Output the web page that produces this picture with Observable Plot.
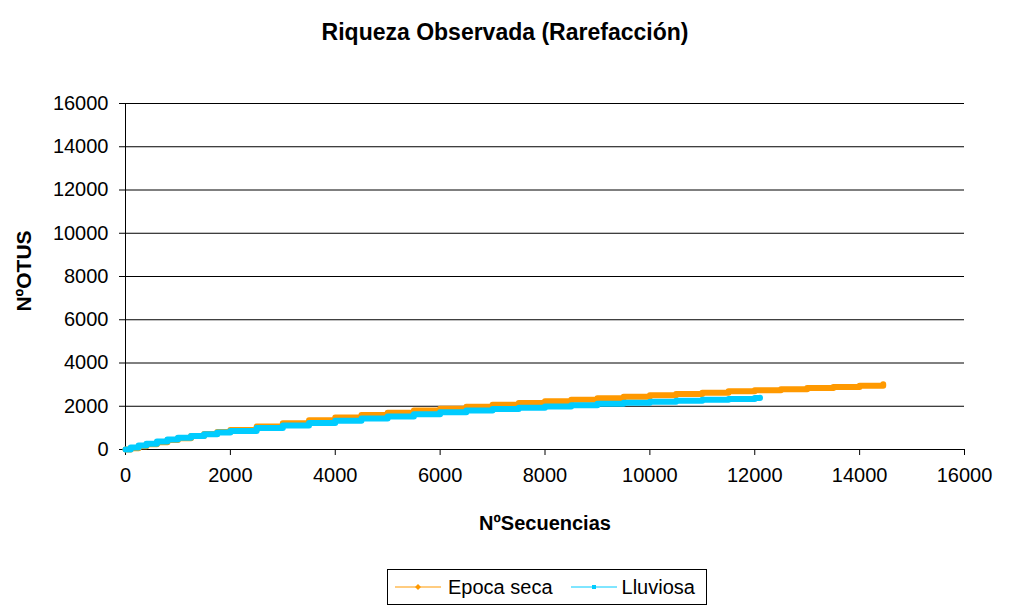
<!DOCTYPE html>
<html><head><meta charset="utf-8">
<script src="https://cdn.jsdelivr.net/npm/d3@7"></script>
<script src="https://cdn.jsdelivr.net/npm/@observablehq/plot@0.6"></script>
<style>
body{margin:0;background:#fff;font-family:"Liberation Sans",Arial,sans-serif;}
#wrap{position:relative;width:1009px;height:605px;overflow:hidden;background:#fff}
#legend{position:absolute;left:387px;top:569px;width:320px;height:36px;border:1px solid #000;box-sizing:border-box;display:flex;align-items:center;font-size:20px;color:#000;background:#fff;padding-left:7px}
#legend .item{display:flex;align-items:center}
#legend svg{display:block}
.lbl{position:absolute;font-weight:bold;color:#000;white-space:nowrap;line-height:1}
</style></head>
<body><div id="wrap"></div>
<script>
const title = "Riqueza Observada (Rarefacción)";
const xLabel = "NºSecuencias";
const yLabel = "NºOTUS";
const seriesNames = ["Epoca seca", "Lluviosa"];
const seriesColors = ["#FF9900", "#00CCFF"];
const xTicks = [0, 2000, 4000, 6000, 8000, 10000, 12000, 14000, 16000];
const yTicks = [0, 2000, 4000, 6000, 8000, 10000, 12000, 14000, 16000];

const secaSeq  = [0, 100, 250, 400, 600, 800, 1000, 1250, 1500, 1750, 2000, 2500, 3000, 3500, 4000, 4500, 5000, 5500, 6000, 6500, 7000, 7500, 8000, 8500, 9000, 9500, 10000, 10500, 11000, 11500, 12000, 12500, 13000, 13500, 14000, 14450];
const secaOtus = [0, 60, 150, 240, 340, 440, 520, 620, 720, 810, 900, 1060, 1210, 1350, 1480, 1590, 1700, 1800, 1890, 1980, 2070, 2150, 2230, 2300, 2370, 2440, 2510, 2570, 2630, 2690, 2740, 2790, 2840, 2890, 2950, 3020];

const lluvSeq  = [0, 100, 250, 400, 600, 800, 1000, 1250, 1500, 1750, 2000, 2500, 3000, 3500, 4000, 4500, 5000, 5500, 6000, 6500, 7000, 7500, 8000, 8500, 9000, 9500, 10000, 10500, 11000, 11500, 12000, 12100];
const lluvOtus = [0, 90, 180, 270, 370, 460, 540, 630, 710, 790, 860, 1000, 1110, 1220, 1330, 1430, 1530, 1630, 1720, 1800, 1870, 1930, 1990, 2050, 2110, 2160, 2210, 2260, 2300, 2340, 2380, 2390];

const rows = [
  ...secaSeq.map((x, i) => ({serie: seriesNames[0], x, y: secaOtus[i]})),
  ...lluvSeq.map((x, i) => ({serie: seriesNames[1], x, y: lluvOtus[i]}))
];

const font = "Liberation Sans, Arial, sans-serif";
const plot = Plot.plot({
  width: 1009, height: 605,
  marginLeft: 125, marginRight: 45, marginTop: 103, marginBottom: 156,
  style: {fontFamily: font, fontSize: "20px", color: "#000", background: "#fff"},
  x: {domain: [0, 16000]},
  y: {domain: [0, 16000]},
  color: {domain: seriesNames, range: seriesColors},
  marks: [
    Plot.gridY(yTicks, {stroke: "#000", strokeOpacity: 1, strokeWidth: 1}),
    Plot.ruleX([0], {stroke: "#000", strokeWidth: 1}),
    Plot.ruleY([0], {stroke: "#000", strokeWidth: 1}),
    Plot.axisY(yTicks, {tickSize: 6, tickPadding: 11, tickFormat: d => String(d), label: null, fontSize: 20, stroke: "#000"}),
    Plot.axisX(xTicks, {tickSize: 6, tickPadding: 12, tickFormat: d => String(d), label: null, fontSize: 20, stroke: "#000"}),
    Plot.line(rows, {x: "x", y: "y", z: "serie", stroke: "serie", strokeWidth: 6, curve: "step-after", strokeLinecap: "round", strokeLinejoin: "round"})
  ]
});
const wrap = document.getElementById("wrap");
wrap.appendChild(plot);

function addLabel(text, size, cx, cy, rotate) {
  const d = document.createElement("div");
  d.className = "lbl";
  d.textContent = text;
  d.style.fontSize = size + "px";
  d.style.left = cx + "px";
  d.style.top = cy + "px";
  d.style.transform = `translate(-50%,-50%)${rotate ? " rotate(-90deg)" : ""}`;
  wrap.appendChild(d);
}
addLabel(title, 23, 505, 32, false);
addLabel(xLabel, 20, 545, 523, false);
addLabel(yLabel, 21, 23, 271, true);

const legend = document.createElement("div");
legend.id = "legend";
const markers = ["diamond", "square"];
seriesNames.forEach((name, i) => {
  const item = document.createElement("div");
  item.className = "item";
  item.style.marginRight = i === 0 ? "18px" : "0";
  const c = seriesColors[i];
  const mk = markers[i] === "diamond"
    ? `<path d="M23,2 L26,5 L23,8 L20,5 Z" fill="${c}"/>`
    : `<rect x="21" y="3" width="4" height="4" fill="${c}"/>`;
  item.innerHTML = `<svg width="46" height="10"><line x1="0" x2="46" y1="5" y2="5" stroke="${c}" stroke-width="1"/>${mk}</svg><span style="margin-left:${i === 0 ? 7 : 5}px">${name}</span>`;
  legend.appendChild(item);
});
wrap.appendChild(legend);
</script>
</body></html>
